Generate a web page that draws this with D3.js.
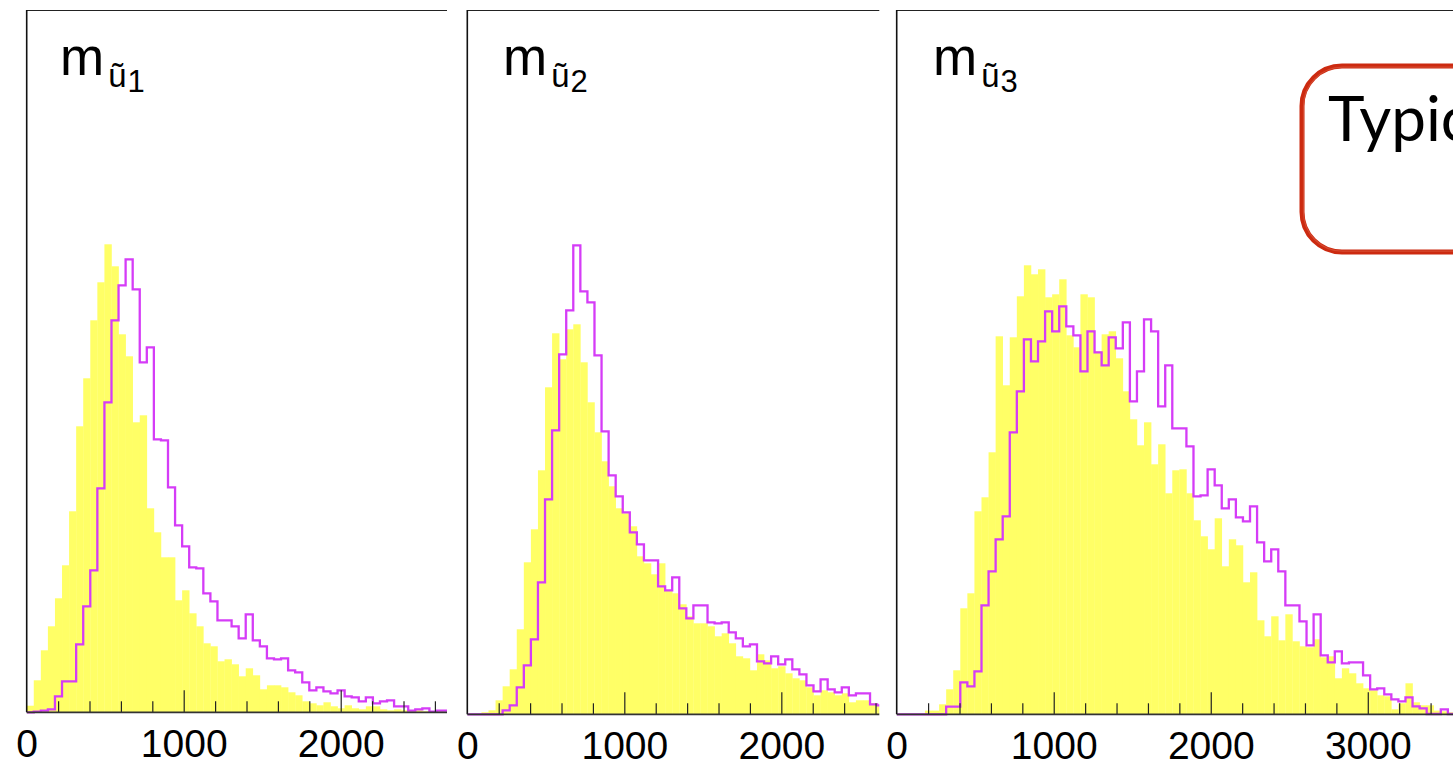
<!DOCTYPE html>
<html>
<head>
<meta charset="utf-8">
<script src="https://cdn.jsdelivr.net/npm/d3@7"></script>
<style>
  html, body { margin: 0; padding: 0; background: #ffffff; }
  svg { display: block; }
</style>
</head>
<body>
<svg id="chart" width="1453" height="768"></svg>
<script>
// Histogram bin width (GeV) shared by all three mass distributions
const binWidth = 45;

// m(ũ1): filled (yellow) and outlined (magenta) histograms, one value per bin
const fill_u1 = [6.6, 32, 62, 86, 114, 147, 201, 286, 334, 392, 430, 468, 446, 378, 356, 290, 297, 204, 180, 155,
  155, 112, 122, 99, 86, 69, 66, 51, 53, 48, 36, 44, 37, 23, 27, 27, 25, 20, 17, 11,
  9, 7, 10, 6, 4, 7, 4, 3, 6, 6, 3, 2, 3, 2, 1, 2, 1, 1, 1, 0.5];
const line_u1 = [0, 0.6, 1.6, 3, 16, 31, 31, 68, 106, 142, 224, 310, 392, 427, 453, 423, 350, 365, 273, 272,
  225, 187, 166, 145, 144, 119, 111, 92, 92, 86, 74, 98, 72, 66, 54, 53, 54, 42, 40, 30,
  22, 25, 21, 19, 22, 16, 15, 11, 15, 9, 11, 12, 6, 6, 1.6, 3, 4, 0.6, 1.6, 1.6];

// m(ũ2)
const fill_u2 = [0, 0, 2, 4, 14, 28, 45, 85, 152, 185, 244, 327, 381, 355, 385, 390, 352, 312, 282, 253,
  228, 206, 201, 188, 158, 151, 140, 151, 124, 121, 110, 98, 91, 91, 88, 78, 81, 71, 58, 56,
  44, 60, 54, 46, 48, 41, 36, 34, 27, 19, 24, 22, 19, 21, 12, 14, 14, 11, 8];
const line_u2 = [0, 0, 0, 0, 0, 4, 9, 27, 49, 75, 132, 215, 284, 360, 404, 469, 423, 412, 359, 283,
  239, 218, 202, 182, 170, 154, 154, 128, 124, 137, 106, 96, 109, 109, 92, 91, 92, 82, 76, 68,
  70, 53, 51, 58, 50, 55, 45, 40, 29, 23, 35, 25, 22, 27, 19, 21, 21, 10, 9];

// m(ũ3)
const fill_u3 = [0, 0, 0, 0, 3.7, 3.7, 10, 25, 44, 106, 121, 203, 217, 262, 378, 329, 377, 418, 449, 440,
  445, 417, 420, 435, 379, 367, 420, 417, 363, 380, 383, 356, 323, 295, 269, 292, 250, 270, 221, 244,
  245, 221, 194, 178, 165, 196, 148, 175, 169, 132, 142, 94, 78, 98, 74, 100, 73, 68, 67, 75,
  57, 58, 36, 46, 41, 31, 26, 24, 19, 18, 5, 11, 31, 12, 9, 9, 3.7, 3, 2];
const line_u3 = [0, 0, 0, 0, 0, 0, 0, 7.7, 7.7, 32, 28, 43, 109, 143, 175, 198, 282, 323, 375, 353,
  373, 403, 383, 408, 388, 379, 343, 383, 362, 349, 377, 366, 392, 313, 343, 395, 383, 308, 349, 286,
  286, 268, 218, 219, 245, 229, 206, 215, 197, 193, 208, 172, 153, 165, 143, 109, 109, 93, 69, 100,
  59, 52, 63, 51, 52, 52, 39, 25, 26, 20, 15, 13, 17, 8, 6, 0.3, 0.3, 5, 0.3];

// Axis labels
const labels_u1 = [0, 1000, 2000];
const labels_u2 = [0, 1000, 2000];
const labels_u3 = [0, 1000, 2000, 3000];
const subscripts = ["1", "2", "3"];

// Panel frames (pixels) and the x range each panel shows
const panels = [
  { fill: fill_u1, line: line_u1, labels: labels_u1, sub: subscripts[0], left: 26.7, right: 447,  bottom: 712.3, xmax: 2677, titleX: 60 },
  { fill: fill_u2, line: line_u2, labels: labels_u2, sub: subscripts[1], left: 467.3, right: 879.3, bottom: 714.3, xmax: 2624, titleX: 503 },
  { fill: fill_u3, line: line_u3, labels: labels_u3, sub: subscripts[2], left: 896.7, right: 1462, bottom: 714.3, xmax: 3600, titleX: 933 }
];
const plotTop = 10;

const svg = d3.select("#chart");
const defs = svg.append("defs");

panels.forEach((p, k) => {
  const x = d3.scaleLinear().domain([0, p.xmax]).range([p.left, p.right]);
  const y = d3.scaleLinear().domain([0, p.bottom - plotTop]).range([p.bottom, plotTop]);

  const clipId = "clip" + k;
  defs.append("clipPath").attr("id", clipId)
    .append("rect")
    .attr("x", p.left).attr("y", plotTop - 2)
    .attr("width", p.right - p.left).attr("height", p.bottom - plotTop + 4);

  const g = svg.append("g");
  const plot = g.append("g").attr("clip-path", `url(#${clipId})`);

  // filled histogram
  plot.selectAll("rect.bar")
    .data(p.fill)
    .join("rect")
    .attr("class", "bar")
    .attr("x", (d, i) => x(i * binWidth))
    .attr("width", (d, i) => x((i + 1) * binWidth) - x(i * binWidth) + 0.3)
    .attr("y", d => y(d))
    .attr("height", d => y(0) - y(d))
    .attr("fill", "#ffff66");

  // frame: top and left edges
  g.append("line")
    .attr("x1", p.left).attr("x2", p.right)
    .attr("y1", plotTop + 0.5).attr("y2", plotTop + 0.5)
    .attr("stroke", "#222").attr("stroke-width", 1);
  g.append("line")
    .attr("x1", p.left).attr("x2", p.left)
    .attr("y1", plotTop).attr("y2", p.bottom)
    .attr("stroke", "#111").attr("stroke-width", 1.6);

  // inward ticks: minor every 200, major every 1000
  const minor = d3.range(200, p.xmax, 200).filter(v => v % 1000 !== 0);
  const major = d3.range(1000, p.xmax, 1000);
  g.append("g")
    .attr("transform", `translate(0,${p.bottom})`)
    .call(d3.axisBottom(x).tickValues(minor).tickSize(-11).tickFormat(""))
    .call(a => a.select(".domain").remove())
    .call(a => a.selectAll("line").attr("stroke", "#222").attr("stroke-width", 1.2));
  g.append("g")
    .attr("transform", `translate(0,${p.bottom})`)
    .call(d3.axisBottom(x).tickValues(major).tickSize(-22).tickFormat(""))
    .call(a => a.select(".domain").remove())
    .call(a => a.selectAll("line").attr("stroke", "#222").attr("stroke-width", 1.2));

  // bottom axis line
  g.append("line")
    .attr("x1", p.left).attr("x2", p.right)
    .attr("y1", p.bottom).attr("y2", p.bottom)
    .attr("stroke", "#333").attr("stroke-width", 1.8);

  // tick labels
  g.append("g")
    .attr("transform", `translate(0,${p.bottom})`)
    .call(d3.axisBottom(x).tickValues(p.labels).tickSize(0).tickPadding(17).tickFormat(d3.format("d")))
    .call(a => a.select(".domain").remove())
    .call(a => a.selectAll("text")
      .attr("fill", "#000")
      .style("font-family", "'Liberation Sans', Arial, Helvetica, sans-serif")
      .style("font-size", "39px"));

  // outlined histogram (drawn over the axis)
  const pts = p.line.map((d, i) => [i * binWidth, d]);
  pts.push([p.line.length * binWidth, p.line[p.line.length - 1]]);
  plot.append("path")
    .datum(pts)
    .attr("fill", "none")
    .attr("stroke", "#d53cf7")
    .attr("stroke-width", 2.3)
    .attr("stroke-linejoin", "miter")
    .attr("d", d3.line().x(d => x(d[0])).y(d => y(d[1])).curve(d3.curveStepAfter));

  // panel title m_{ũ_k}
  const t = g.append("text")
    .attr("x", p.titleX).attr("y", 75)
    .attr("fill", "#000")
    .style("font-family", "'Liberation Sans', Arial, sans-serif");
  t.append("tspan").style("font-size", "53px").text("m");
  t.append("tspan").attr("dy", 12).attr("dx", 4).style("font-size", "33px").text("ũ");
  t.append("tspan").attr("dy", 5).attr("dx", 1).style("font-size", "31px").text(p.sub);
});

// callout box at the upper right
const box = svg.append("g");
box.append("rect")
  .attr("x", 1302).attr("y", 66).attr("width", 320).attr("height", 186)
  .attr("rx", 40).attr("ry", 40)
  .attr("fill", "#fff")
  .attr("stroke", "#cc2a10").attr("stroke-width", 5);
box.append("rect")
  .attr("x", 1303.5).attr("y", 67.2).attr("width", 320).attr("height", 184)
  .attr("rx", 39).attr("ry", 39)
  .attr("fill", "none")
  .attr("stroke", "#d8553c").attr("stroke-width", 1.2).attr("opacity", 0.7);
box.append("text")
  .attr("x", 1328).attr("y", 141)
  .attr("fill", "#000")
  .style("font-family", "Lato, 'Open Sans', sans-serif")
  .style("font-size", "62px")
  .text("Typical");
</script>
</body>
</html>
